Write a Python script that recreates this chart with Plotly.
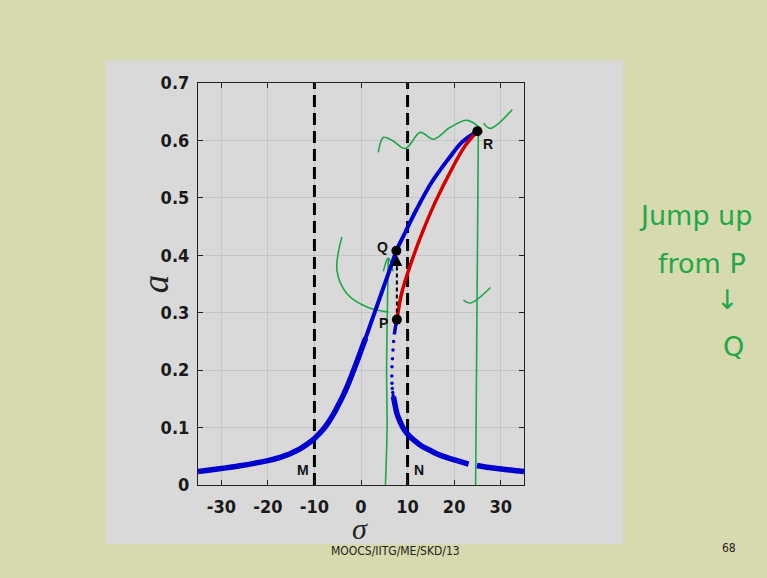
import plotly.graph_objects as go

# ---------------- data ----------------
# left / upper stable branch (blue)
sig_left = [-35, -32, -29, -26, -23, -20, -18, -17, -16, -15, -14, -13, -12, -11, -10,
            -9, -8, -7, -6, -5, -4, -3, -2, -1, 0, 1]
a_left = [0.0235, 0.0265, 0.0298, 0.0334, 0.0376, 0.0425, 0.0466, 0.0491, 0.052, 0.0553,
          0.0591, 0.0635, 0.0686, 0.0744, 0.081, 0.089, 0.098, 0.109, 0.122, 0.137, 0.153,
          0.171, 0.191, 0.212, 0.234, 0.256]
sig_upper = [0, 1, 2, 3, 4, 5, 6, 7, 7.6, 9.5, 12.0, 15.25, 18.8, 21.7, 25.0]
a_upper = [0.234, 0.256, 0.279, 0.302, 0.325, 0.348, 0.371, 0.394, 0.408, 0.44, 0.481,
           0.528, 0.568, 0.597, 0.616]
# unstable middle branch (red)
sig_unst = [7.7, 8.8, 10.6, 12.95, 15.97, 19.55, 22.4, 25.0]
a_unst = [0.288, 0.336, 0.383, 0.435, 0.493, 0.551, 0.591, 0.616]
# lower right stable branch (blue)
sig_lower = [6.95, 7.3, 7.73, 8.4, 9.15, 10.2, 11.3, 13.0, 14.9, 16.5, 18.5, 20.8, 23.1, None,
             24.9, 27.0, 29.2, 32.0, 35.0]
a_lower = [0.154, 0.14, 0.124, 0.11, 0.098, 0.087, 0.0785, 0.068, 0.060, 0.0535, 0.0475,
           0.042, 0.0365, None, 0.034, 0.031, 0.0288, 0.026, 0.0233]
sig_near_p = [7.7, 7.4, 7.15]
a_near_p = [0.288, 0.275, 0.262]
sig_dots = [7.0, 6.87, 6.75, 6.65, 6.62, 6.65, 6.72, 6.82, 6.9]
a_dots = [0.25, 0.235, 0.22, 0.206, 0.19, 0.177, 0.168, 0.161, 0.156]
# marked points
pt_names = ["P", "Q", "R"]
pt_sigma = [7.7, 7.6, 25.0]
pt_a = [0.288, 0.408, 0.616]
# vertical limits M, N
lim_names = ["M", "N"]
lim_sigma = [-10, 10]

x_ticks = [-30, -20, -10, 0, 10, 20, 30]
x_tick_text = ["-30", "-20", "-10", "0", "10", "20", "30"]
y_ticks = [0, 0.1, 0.2, 0.3, 0.4, 0.5, 0.6, 0.7]
y_tick_text = ["0", "0.1", "0.2", "0.3", "0.4", "0.5", "0.6", "0.7"]

BLUE = "#0000cf"
RED = "#d40000"
GREEN = "#1fa847"
PANEL = "#d9d9d9"
SLIDE = "#d7d9ae"

fig = go.Figure()

for s in lim_sigma:
    fig.add_trace(go.Scatter(x=[s, s], y=[0, 0.7], mode="lines",
                             line=dict(color="black", width=3, dash="12px,6px"),
                             hoverinfo="skip"))

# green hand strokes (drawn under the curves)
green_strokes = [
    ([3.71, 4.79, 6.72, 9.52, 12.74, 15.54, 19.19, 22.85, 25.64],
     [0.579, 0.605, 0.6, 0.586, 0.614, 0.602, 0.623, 0.635, 0.621]),
    ([26.3, 27.8, 32.5], [0.63, 0.621, 0.654]),
    ([25.2, 24.9, 24.6], [0.621, 0.3, -0.01]),
    ([5.86, 5.5, 5.6, 5.2], [0.395, 0.2, 0.1, -0.01]),
    ([4.8, 5.86, 6.9], [0.372, 0.395, 0.372]),
    ([-4.1, -5.17, -3.02, 1.28, 5.92], [0.432, 0.374, 0.333, 0.31, 0.301]),
    ([22.0, 23.5, 27.8], [0.322, 0.317, 0.344]),
]
for xs, ys in green_strokes:
    fig.add_trace(go.Scatter(x=xs, y=ys, mode="lines", hoverinfo="skip",
                             line=dict(color=GREEN, width=1.6, shape="spline")))

fig.add_trace(go.Scatter(x=sig_left, y=a_left, mode="lines",
                         line=dict(color=BLUE, width=5.5, shape="spline")))
fig.add_trace(go.Scatter(x=sig_upper, y=a_upper, mode="lines",
                         line=dict(color=BLUE, width=4, shape="spline")))
fig.add_trace(go.Scatter(x=sig_unst, y=a_unst, mode="lines",
                         line=dict(color=RED, width=3.5, shape="spline")))
fig.add_trace(go.Scatter(x=sig_lower, y=a_lower, mode="lines",
                         line=dict(color=BLUE, width=5.5, shape="spline"),
                         connectgaps=False))
fig.add_trace(go.Scatter(x=sig_near_p, y=a_near_p, mode="lines",
                         line=dict(color=BLUE, width=3.5, shape="spline")))
fig.add_trace(go.Scatter(x=sig_dots, y=a_dots, mode="markers",
                         marker=dict(color=BLUE, size=3.5)))

# dashed jump P -> Q
fig.add_trace(go.Scatter(x=[pt_sigma[0], pt_sigma[0]], y=[pt_a[0], pt_a[1] - 0.03],
                         mode="lines", line=dict(color="black", width=2, dash="4px,3px")))
fig.add_annotation(x=pt_sigma[0], y=pt_a[1] - 0.008, ax=pt_sigma[0], ay=pt_a[1] - 0.035,
                   xref="x", yref="y", axref="x", ayref="y", text="",
                   showarrow=True, arrowhead=2, arrowsize=1.2, arrowwidth=1.8,
                   arrowcolor="black")

fig.add_trace(go.Scatter(x=pt_sigma, y=pt_a, mode="markers",
                         marker=dict(color="black", size=10)))

lab_font = dict(family="Liberation Sans, Arial", size=14, color="#111", weight="bold")
offsets = {"P": (-13, -3), "Q": (-14, 4), "R": (11, -13)}
for n, s, a in zip(pt_names, pt_sigma, pt_a):
    dx, dy = offsets[n]
    fig.add_annotation(x=s, y=a, text=n, showarrow=False, xshift=dx, yshift=dy,
                       xanchor="center", yanchor="middle", font=lab_font)
for n, s in zip(lim_names, lim_sigma):
    fig.add_annotation(x=s, y=0.026, text=n, showarrow=False,
                       xshift=-11 if n == "M" else 11,
                       xanchor="center", yanchor="middle", font=lab_font)

# panel behind axes
fig.add_shape(type="rect", xref="paper", yref="paper", x0=-0.2853, x1=1.3046,
              y0=-0.1467, y1=1.058, fillcolor=PANEL, line=dict(width=0), layer="below")


def pap(px, py):
    return (px - 198) / 326, (485 - py) / 402.3


hand_font = dict(family="DejaVu Sans", size=27, color=GREEN)
for txt, px, py in [("Jump up", 695, 215), ("from P", 702, 263),
                    ("↓", 727, 299), ("Q", 733, 346)]:
    x, y = pap(px, py)
    fig.add_annotation(xref="paper", yref="paper", x=x, y=y, text=txt,
                       xanchor="center", yanchor="middle", showarrow=False, font=hand_font)

small_font = dict(family="Liberation Sans Narrow, DejaVu Sans Condensed, Liberation Sans",
                  size=12, color="#222")
for txt, px, py in [("MOOCS/IITG/ME/SKD/13", 395, 551), ("68", 729, 548)]:
    x, y = pap(px, py)
    fig.add_annotation(xref="paper", yref="paper", x=x, y=y, text=txt, showarrow=False,
                       xanchor="center", yanchor="middle", font=small_font)

# axis titles
x, y = pap(360, 529)
fig.add_annotation(xref="paper", yref="paper", x=x, y=y, text="<i>σ</i>",
                   xanchor="center", yanchor="middle",
                   showarrow=False, font=dict(family="Liberation Serif", size=30, color="#222"))
x, y = pap(155, 284)
fig.add_annotation(xref="paper", yref="paper", x=x, y=y, text="<i>a</i>",
                   textangle=-90, xanchor="center", yanchor="middle", showarrow=False,
                   font=dict(family="Liberation Serif", size=37, color="#222"))

tick_font = dict(family="Liberation Sans Narrow, DejaVu Sans Condensed, Liberation Sans",
                 size=18, color="#1a1a1a", weight="bold")
axis_common = dict(showgrid=True, gridcolor="#c6c6c6", gridwidth=1, zeroline=False,
                   showline=True, linecolor="#222", linewidth=1.2, mirror="ticks",
                   ticks="inside", ticklen=5, tickcolor="#222", tickfont=tick_font)
fig.update_xaxes(range=[-35, 35], tickvals=x_ticks, ticktext=x_tick_text,
                 ticklabelstandoff=5, **axis_common)
fig.update_yaxes(range=[0, 0.7], tickvals=y_ticks, ticktext=y_tick_text,
                 ticklabelstandoff=4, **axis_common)

fig.update_layout(width=767, height=578, autosize=False, showlegend=False,
                  margin=dict(l=198, r=243, t=83, b=93, pad=0),
                  paper_bgcolor=SLIDE, plot_bgcolor=PANEL)

fig.write_html("out.html", config={"displayModeBar": False},
               post_script="document.body.style.margin='0px';"
                           "document.body.style.overflow='hidden';")
